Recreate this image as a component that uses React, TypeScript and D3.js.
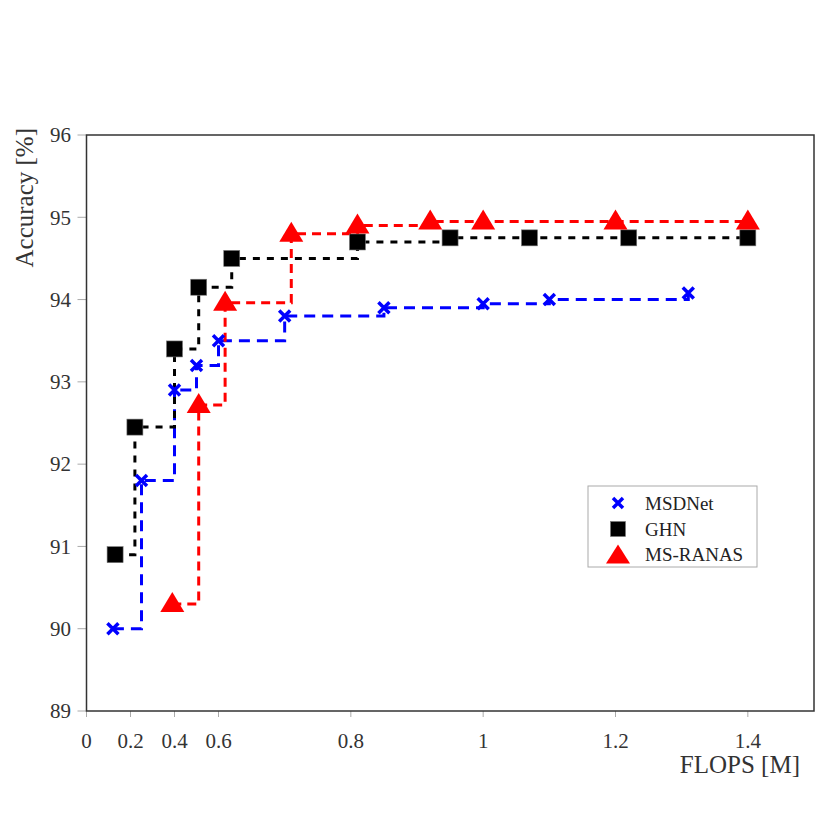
import * as d3 from "d3"

// FLOPS [M] / Accuracy [%]
const msdX = [0.12, 0.25, 0.4, 0.5, 0.6, 0.7, 0.85, 1.0, 1.1, 1.31]
const msdY = [90.0, 91.8, 92.9, 93.2, 93.5, 93.8, 93.9, 93.95, 94.0, 94.08]

const ghnX = [0.13, 0.22, 0.4, 0.51, 0.62, 0.81, 0.95, 1.07, 1.22, 1.4]
const ghnY = [90.9, 92.45, 93.4, 94.15, 94.5, 94.7, 94.75, 94.75, 94.75, 94.75]

const ranasX = [0.39, 0.51, 0.61, 0.71, 0.81, 0.92, 1.0, 1.2, 1.4]
const ranasY = [90.3, 92.72, 93.96, 94.8, 94.9, 94.95, 94.95, 94.95, 94.95]

const xTicks = [0, 0.2, 0.4, 0.6, 0.8, 1, 1.2, 1.4]
const yTicks = [89, 90, 91, 92, 93, 94, 95, 96]

const seriesNames = ["MSDNet", "GHN", "MS-RANAS"]

const W = 830
const H = 832
const left = 86.5
const right = 814
const top = 135
const bottom = 711
const font = "'Liberation Serif', 'Times New Roman', serif"

// the x axis is squeezed below 0.6
const x = d3.scaleLinear().domain([0, 0.6, 1.5]).range([left, 218.5, right])
const y = d3.scaleLinear().domain([89, 96]).range([bottom, top])

type Pt = [number, number]

const zip = (xs: number[], ys: number[]): Pt[] => xs.map((v, i) => [v, ys[i]])

const step = d3
  .line<Pt>()
  .x((d) => x(d[0]))
  .y((d) => y(d[1]))
  .curve(d3.curveStepAfter)

const triangle = (cx: number, cy: number, w: number, h: number) =>
  `M${cx},${cy - h / 2}L${cx + w / 2},${cy + h / 2}L${cx - w / 2},${cy + h / 2}Z`

function Cross({ cx, cy, s }: { cx: number; cy: number; s: number }) {
  return (
    <path
      d={`M${cx - s},${cy - s}L${cx + s},${cy + s}M${cx - s},${cy + s}L${cx + s},${cy - s}`}
      stroke="#0000ff"
      strokeWidth={3.5}
      fill="none"
    />
  )
}

function Square({ cx, cy, s }: { cx: number; cy: number; s: number }) {
  return <rect x={cx - s / 2} y={cy - s / 2} width={s} height={s} fill="#000" stroke="#777" strokeWidth={0.6} />
}

function Tri({ cx, cy, w, h }: { cx: number; cy: number; w: number; h: number }) {
  return <path d={triangle(cx, cy, w, h)} fill="#ff0000" />
}

export default function App() {
  const msd = zip(msdX, msdY)
  const ghn = zip(ghnX, ghnY)
  const ranas = zip(ranasX, ranasY)

  const legX = 588
  const legY = 486
  const rows = [503, 529, 554]

  return (
    <svg
      width={W}
      height={H}
      style={{ position: "absolute", left: 0, top: 0, background: "#fff" }}
      fontFamily={font}
    >
      {/* ticks */}
      {yTicks.map((t) => (
        <g key={"y" + t}>
          <line x1={left - 9} x2={left} y1={y(t)} y2={y(t)} stroke="#aaa" strokeWidth={1} />
          <text x={71} y={y(t)} dy="0.35em" textAnchor="end" fontSize={21} fill="#333">
            {t}
          </text>
        </g>
      ))}
      {xTicks.map((t) => (
        <g key={"x" + t}>
          <line x1={x(t)} x2={x(t)} y1={bottom} y2={bottom + 6} stroke="#aaa" strokeWidth={1} />
          <text x={x(t)} y={748} textAnchor="middle" fontSize={21} fill="#333">
            {t}
          </text>
        </g>
      ))}

      <rect x={left} y={top} width={right - left} height={bottom - top} fill="none" stroke="#333" strokeWidth={1.5} />

      {/* step lines */}
      <path d={step(msd) ?? ""} fill="none" stroke="#0000ff" strokeWidth={3} strokeDasharray="11,7" />
      <path d={step(ghn) ?? ""} fill="none" stroke="#000" strokeWidth={3} strokeDasharray="7,7" />
      <path d={step(ranas) ?? ""} fill="none" stroke="#ff0000" strokeWidth={3} strokeDasharray="9,6" />

      {/* markers */}
      {msd.map((d, i) => (
        <Cross key={"m" + i} cx={x(d[0])} cy={y(d[1])} s={5.5} />
      ))}
      {ghn.map((d, i) => (
        <Square key={"g" + i} cx={x(d[0])} cy={y(d[1])} s={16} />
      ))}
      {ranas.map((d, i) => (
        <Tri key={"r" + i} cx={x(d[0])} cy={y(d[1]) - 2} w={24} h={20} />
      ))}

      {/* axis labels */}
      <text x={800} y={773} textAnchor="end" fontSize={25} fill="#333">
        FLOPS [M]
      </text>
      <text transform="translate(33,128) rotate(-90)" textAnchor="end" fontSize={25} fill="#333">
        Accuracy [%]
      </text>

      {/* legend */}
      <rect x={legX} y={legY} width={169} height={81} fill="#fff" stroke="#aaa" strokeWidth={1} />
      <Cross cx={618} cy={rows[0]} s={5} />
      <Square cx={618} cy={rows[1]} s={15} />
      <Tri cx={618} cy={rows[2]} w={24} h={19} />
      {seriesNames.map((n, i) => (
        <text key={n} x={645} y={rows[i]} dy="0.35em" fontSize={19} fill="#222">
          {n}
        </text>
      ))}
    </svg>
  )
}
